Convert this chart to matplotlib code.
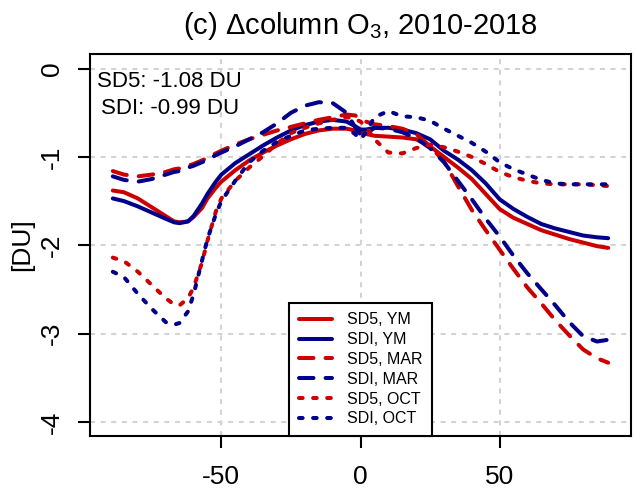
import numpy as np
import matplotlib
matplotlib.use('Agg')
import matplotlib.pyplot as plt

plt.rcParams['font.family'] = ['Liberation Sans', 'DejaVu Sans']
plt.rcParams['mathtext.fontset'] = 'custom'
plt.rcParams['mathtext.rm'] = 'Liberation Sans'
plt.rcParams['mathtext.it'] = 'Liberation Sans:italic'
plt.rcParams['axes.unicode_minus'] = False

# latitude grid (deg)
lat = np.array([-89, -85, -80, -75, -70, -67, -65, -62, -60, -57, -55, -52, -50, -45, -40, -35, -30, -25,
                -20, -15, -10, -5, -2, 0, 2, 5, 10, 15, 20, 25, 30, 35, 40, 45,
                50, 55, 60, 65, 70, 75, 80, 85, 89])

sd5_ym = [-1.38, -1.40, -1.47, -1.57, -1.67, -1.73, -1.74, -1.73, -1.68, -1.58, -1.47, -1.35, -1.28, -1.15, -1.04, -0.95, -0.87, -0.80,
          -0.74, -0.70, -0.68, -0.68, -0.70, -0.72, -0.74, -0.76, -0.77, -0.78, -0.80, -0.88, -1.00, -1.12, -1.25, -1.42,
          -1.59, -1.69, -1.76, -1.83, -1.88, -1.93, -1.97, -2.01, -2.03]
sdi_ym = [-1.47, -1.50, -1.56, -1.63, -1.70, -1.74, -1.75, -1.73, -1.67, -1.53, -1.42, -1.28, -1.20, -1.07, -0.97, -0.87, -0.78, -0.70,
          -0.64, -0.60, -0.58, -0.60, -0.65, -0.69, -0.69, -0.67, -0.67, -0.69, -0.73, -0.80, -0.93, -1.03, -1.15, -1.30,
          -1.48, -1.59, -1.68, -1.76, -1.81, -1.85, -1.89, -1.91, -1.92]
sd5_mar = [-1.16, -1.20, -1.22, -1.20, -1.17, -1.14, -1.13, -1.10, -1.08, -1.04, -1.01, -0.96, -0.93, -0.86, -0.80, -0.75, -0.70, -0.66,
           -0.62, -0.58, -0.55, -0.52, -0.53, -0.56, -0.60, -0.63, -0.65, -0.68, -0.74, -0.88, -1.05, -1.33, -1.60, -1.83,
           -2.05, -2.27, -2.48, -2.66, -2.85, -3.02, -3.18, -3.28, -3.33]
sdi_mar = [-1.22, -1.26, -1.28, -1.25, -1.20, -1.17, -1.16, -1.12, -1.10, -1.06, -1.03, -0.98, -0.95, -0.88, -0.80, -0.72, -0.62, -0.50,
           -0.42, -0.38, -0.39, -0.50, -0.66, -0.75, -0.74, -0.67, -0.68, -0.72, -0.79, -0.90, -1.06, -1.27, -1.48, -1.70,
           -1.90, -2.12, -2.32, -2.50, -2.68, -2.87, -3.03, -3.09, -3.07]
sd5_oct = [-2.14, -2.18, -2.30, -2.45, -2.60, -2.67, -2.68, -2.60, -2.48, -2.20, -1.95, -1.62, -1.47, -1.27, -1.12, -0.99, -0.85, -0.73,
           -0.67, -0.62, -0.58, -0.55, -0.57, -0.60, -0.66, -0.80, -0.95, -0.96, -0.90, -0.86, -0.89, -0.94, -1.00, -1.08,
           -1.17, -1.23, -1.27, -1.30, -1.31, -1.31, -1.31, -1.32, -1.33]
sdi_oct = [-2.30, -2.36, -2.55, -2.72, -2.87, -2.90, -2.88, -2.75, -2.56, -2.18, -1.93, -1.65, -1.50, -1.27, -1.06, -0.93, -0.83, -0.76,
           -0.70, -0.68, -0.67, -0.67, -0.74, -0.80, -0.72, -0.55, -0.48, -0.54, -0.55, -0.59, -0.68, -0.76, -0.84, -0.94,
           -1.06, -1.14, -1.20, -1.26, -1.30, -1.31, -1.31, -1.31, -1.31]

series = [('SD5, YM', sd5_ym), ('SDI, YM', sdi_ym),
          ('SD5, MAR', sd5_mar), ('SDI, MAR', sdi_mar),
          ('SD5, OCT', sd5_oct), ('SDI, OCT', sdi_oct)]
red = '#CD0000'
blue = '#00008B'
colors = [red, blue, red, blue, red, blue]
styles = ['-', '-', (0, (3.6, 3.0)), (0, (3.6, 3.0)), (0, (0.9, 2.6)), (0, (0.9, 2.6))]

fig = plt.figure(figsize=(6.35, 4.9), dpi=100)
ax = fig.add_axes([90/635, 1-436/490, 541/635, 381.5/490])

for (name, vals), c, ls in zip(series, colors, styles):
    ax.plot(lat, vals, color=c, ls=ls, lw=2.9, label=name,
            dash_capstyle='round', solid_capstyle='round', solid_joinstyle='round', zorder=3)

ax.set_xlim(-97.2, 97.2)
ax.set_ylim(-4.16, 0.16)
ax.set_xticks([-50, 0, 50])
ax.set_yticks([0, -1, -2, -3, -4])
ax.grid(True, color='#D3D3D3', lw=1.5, ls=(0, (2.4, 2.7)), zorder=0)
for s in ax.spines.values():
    s.set_linewidth(1.5)
ax.tick_params(direction='out', length=8.6, width=1.5, labelsize=19, pad=10)
ax.tick_params(axis='x', pad=12)
for lab in ax.get_yticklabels():
    lab.set_rotation(90)
    lab.set_va('center')

ax.set_title('(c) Δcolumn O$_3$, 2010-2018', fontsize=21, pad=15)
fig.text(22/635, 1-245/490, '[DU]', rotation=90, ha='center', va='center', fontsize=19)

ax.text(-68.6, -0.21, 'SD5: -1.08 DU', ha='center', va='baseline', fontsize=16)
ax.text(-68.6, -0.51, 'SDI: -0.99 DU', ha='center', va='baseline', fontsize=16)

leg = ax.legend(loc='lower left', bbox_to_anchor=(0.368, 0.0), fontsize=11.5,
                handlelength=2.1, handletextpad=0.9, borderpad=0.6, labelspacing=0.3,
                borderaxespad=0, fancybox=False, framealpha=1, edgecolor='black')
leg.get_frame().set_linewidth(1.5)

fig.savefig('out.png', dpi=100)
